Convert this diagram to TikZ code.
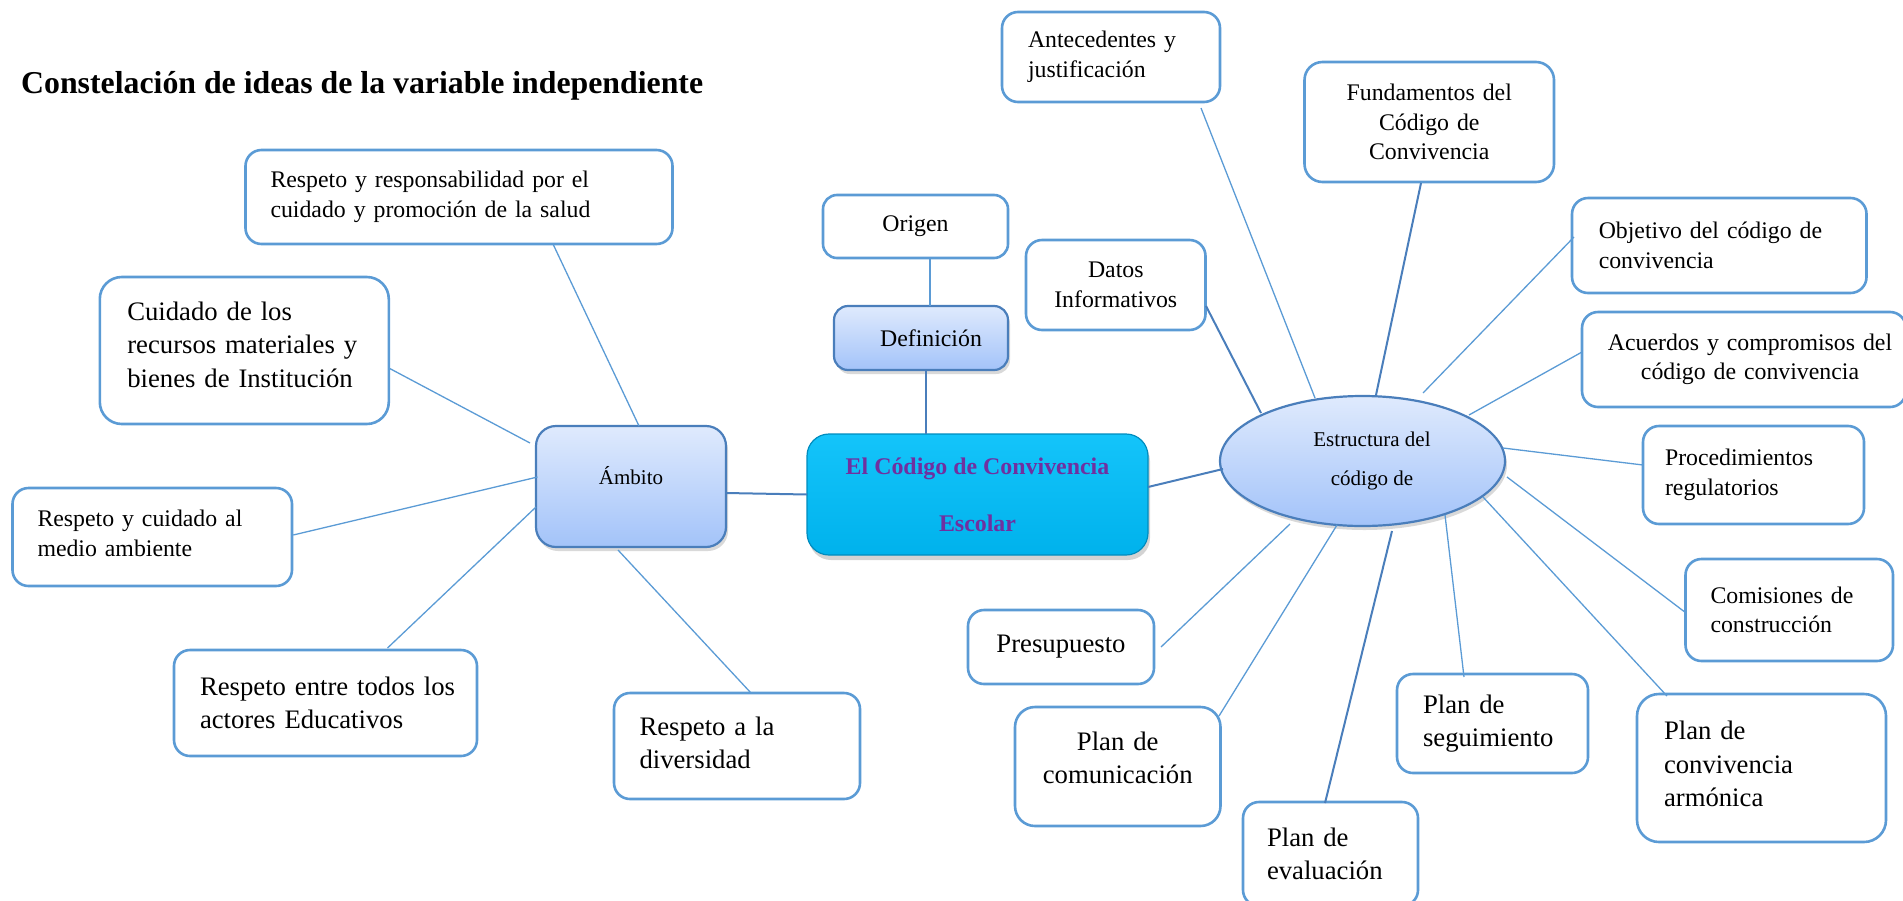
\documentclass[tikz,border=0pt]{standalone}
\usepackage{fontspec}
\setmainfont{Liberation Serif}
\usetikzlibrary{shapes.geometric,shadows}
\definecolor{lb}{RGB}{91,155,213}
\definecolor{db}{RGB}{74,126,187}
\definecolor{gtop}{RGB}{223,234,253}
\definecolor{gbot}{RGB}{163,195,249}
\definecolor{cytop}{RGB}{20,196,250}
\definecolor{cybot}{RGB}{0,178,236}
\definecolor{cyedge}{RGB}{0,140,190}
\definecolor{pur}{RGB}{112,48,160}
\newcommand\fN{\fontsize{23.8}{29.5}\selectfont}
\newcommand\fL{\fontsize{26.7}{33.5}\selectfont}
\newcommand\dropdepth[1]{\rule[-#1]{0pt}{#1}}
\tikzset{
 wbox/.style={draw=lb, line width=2.6pt, rounded corners=16pt, fill=white, inner sep=0pt},
 gbox/.style={draw=db, line width=2.2pt, rounded corners=20pt, top color=gtop, bottom color=gbot, inner sep=0pt,
   drop shadow={shadow xshift=2pt, shadow yshift=-4pt, opacity=0.3}},
 cbox/.style={draw=cyedge, line width=1.2pt, rounded corners=22pt, top color=cytop, bottom color=cybot, inner sep=0pt,
   drop shadow={shadow xshift=2pt, shadow yshift=-5pt, opacity=0.35}},
 lk/.style={draw=lb, line width=1.3pt},
 dk/.style={draw=db, line width=2pt},
}
\begin{document}
\begin{tikzpicture}[x=1pt,y=-1pt]
\useasboundingbox (0,0) rectangle (1903,900);

\node[anchor=base west, font=\bfseries\fontsize{31.8}{38}\selectfont, inner sep=0pt] (title) at (21,93) {Constelación de ideas de la variable independiente};

% ---------- left side ----------
\node[wbox, minimum width=427, minimum height=94, text width=377, inner xsep=25pt, align=left, font=\fN] (salud) at (459,197)
  {Respeto y responsabilidad por el\\cuidado y promoción de la salud};
\node[wbox, rounded corners=22pt, minimum width=289, minimum height=147, text width=234, inner xsep=27.5pt, align=left, font=\fL] (cuidado) at (244.3,350.5)
  {Cuidado de los\\recursos materiales y\\bienes de Institución\dropdepth{12pt}};
\node[wbox, minimum width=279.5, minimum height=98, text width=229.5, inner xsep=25pt, align=left, font=\fN] (ambiente) at (152.25,537)
  {Respeto y cuidado al\\medio ambiente\dropdepth{8pt}};
\node[wbox, minimum width=303, minimum height=106, text width=251, inner xsep=26pt, align=left, font=\fL] (entre) at (325.5,703)
  {\mbox{Respeto entre todos los}\\actores Educativos};
\node[wbox, minimum width=246, minimum height=106, text width=195, inner xsep=25.5pt, align=left, font=\fL] (diversidad) at (737,746)
  {Respeto a la\\diversidad\dropdepth{7pt}};
\node[gbox, minimum width=190, minimum height=121, text height=12pt, text depth=17pt, font=\fontsize{21}{25}\selectfont] (ambito) at (631,486.5)
  {Ámbito};

% ---------- centre ----------
\node[wbox, rounded corners=14pt, minimum width=185, minimum height=63, font=\fN] (origen) at (915.5,226.5) {Origen};
\node[gbox, rounded corners=14pt, minimum width=174, minimum height=64, font=\fN] (definicion) at (921,338) {\hspace*{20pt}Definición};
\node[cbox, minimum width=341, minimum height=121, align=center, text=pur, font=\bfseries\fontsize{23.9}{57}\selectfont] (central) at (977.5,494.5)
  {El Código de Convivencia\\Escolar};

% ---------- right side ----------
\node[gbox, ellipse, minimum width=285, minimum height=130, align=center, font=\fontsize{21}{39}\selectfont] (estr) at (1362.5,461)
  {\hspace*{19pt}Estructura del\\\hspace*{19pt}código de};

\node[wbox, minimum width=218, minimum height=90, text width=166, inner xsep=26pt, align=left, font=\fN] (antecedentes) at (1111,57)
  {Antecedentes y\\justificación};
\node[wbox, rounded corners=18pt, minimum width=249.5, minimum height=120, text width=229.5, inner xsep=10pt, align=center, font=\fN] (fundamentos) at (1429.25,122)
  {Fundamentos del\\Código de\\Convivencia};
\node[wbox, minimum width=179.5, minimum height=90, text width=159.5, inner xsep=10pt, align=center, font=\fN] (datos) at (1115.75,285)
  {Datos\\Informativos};
\node[wbox, minimum width=294.5, minimum height=95, text width=241, inner xsep=26.5pt, align=left, font=\fN] (objetivo) at (1719.25,245.5)
  {Objetivo del código de\\convivencia};
\node[wbox, minimum width=324, minimum height=95, text width=304, inner xsep=10pt, align=center, font=\fN] (acuerdos) at (1744,359.5)
  {\hspace*{12pt}Acuerdos y compromisos del\\\hspace*{12pt}código de convivencia};
\node[wbox, minimum width=221, minimum height=98, text width=177, inner xsep=22pt, align=left, font=\fN] (procedimientos) at (1753.5,475)
  {Procedimientos\\regulatorios};
\node[wbox, minimum width=207.5, minimum height=102, text width=157.5, inner xsep=25pt, align=left, font=\fN] (comisiones) at (1789.25,610)
  {Comisiones de\\construcción};
\node[wbox, rounded corners=22pt, minimum width=249, minimum height=148, text width=195, inner xsep=27pt, align=left, font=\fL] (armonica) at (1761.5,768)
  {Plan de\\convivencia\\armónica\dropdepth{8pt}};
\node[wbox, minimum width=191, minimum height=99, text width=139, inner xsep=26pt, align=left, font=\fL] (seguimiento) at (1492.5,723.5)
  {Plan de\\seguimiento};
\node[wbox, minimum width=175, minimum height=104, text width=127, inner xsep=24pt, align=left, font=\fL] (evaluacion) at (1330.5,854)
  {Plan de\\evaluación};
\node[wbox, rounded corners=20pt, minimum width=205.5, minimum height=119, text width=185.5, inner xsep=10pt, align=center, font=\fL] (comunicacion) at (1117.75,766.5)
  {Plan de\\comunicación\dropdepth{18pt}};
\node[wbox, minimum width=186, minimum height=74, text height=20pt, text depth=10pt, font=\fL] (presupuesto) at (1061,647) {Presupuesto};

% ---------- connectors, left ----------
\draw[lk] ([shift={(8,-60.5)}]ambito.center) -- ([shift={(94,47)}]salud.center);
\draw[lk] ([shift={(-101,-43.5)}]ambito.center) -- ([shift={(144.5,17.5)}]cuidado.center);
\draw[lk] ([shift={(-93.5,-9.5)}]ambito.center) -- ([shift={(141,-2)}]ambiente.center);
\draw[lk] ([shift={(-95,20.5)}]ambito.center) -- ([shift={(62,-55)}]entre.center);
\draw[lk] ([shift={(-13,63.5)}]ambito.center) -- ([shift={(14,-53)}]diversidad.center);
\draw[dk] ([shift={(95,6.5)}]ambito.center) -- ([shift={(-170.5,0)}]central.center);
\draw[lk] ([shift={(14.5,31.5)}]origen.center) -- ([shift={(9,-32)}]definicion.center);
\draw[dk] ([shift={(5,32)}]definicion.center) -- ([shift={(-51.5,-60.5)}]central.center);
\draw[dk] ([shift={(170.5,-7.5)}]central.center) -- ([shift={(-139.5,8)}]estr.center);

% ---------- connectors, right ----------
\draw[dk] ([shift={(90.25,21)}]datos.center) -- ([shift={(-101.5,-48)}]estr.center);
\draw[lk] ([shift={(90,51)}]antecedentes.center) -- ([shift={(-47.5,-63)}]estr.center);
\draw[dk] ([shift={(-8.25,61)}]fundamentos.center) -- ([shift={(13.5,-66)}]estr.center);
\draw[lk] ([shift={(-145.25,-8.5)}]objetivo.center) -- ([shift={(60.5,-68)}]estr.center);
\draw[lk] ([shift={(-162,-7.5)}]acuerdos.center) -- ([shift={(106.5,-46)}]estr.center);
\draw[lk] ([shift={(-110.5,-10)}]procedimientos.center) -- ([shift={(140.5,-13)}]estr.center);
\draw[lk] ([shift={(-104.5,2)}]comisiones.center) -- ([shift={(144.5,16)}]estr.center);
\draw[lk] ([shift={(-94.5,-72)}]armonica.center) -- ([shift={(120.5,36)}]estr.center);
\draw[lk] ([shift={(-28.5,-46.5)}]seguimiento.center) -- ([shift={(82.5,54)}]estr.center);
\draw[dk] ([shift={(-5.5,-51)}]evaluacion.center) -- ([shift={(29.5,70)}]estr.center);
\draw[lk] ([shift={(101.25,-50.5)}]comunicacion.center) -- ([shift={(-25.5,64)}]estr.center);
\draw[lk] ([shift={(100,0)}]presupuesto.center) -- ([shift={(-72.5,63)}]estr.center);
\end{tikzpicture}
\end{document}
